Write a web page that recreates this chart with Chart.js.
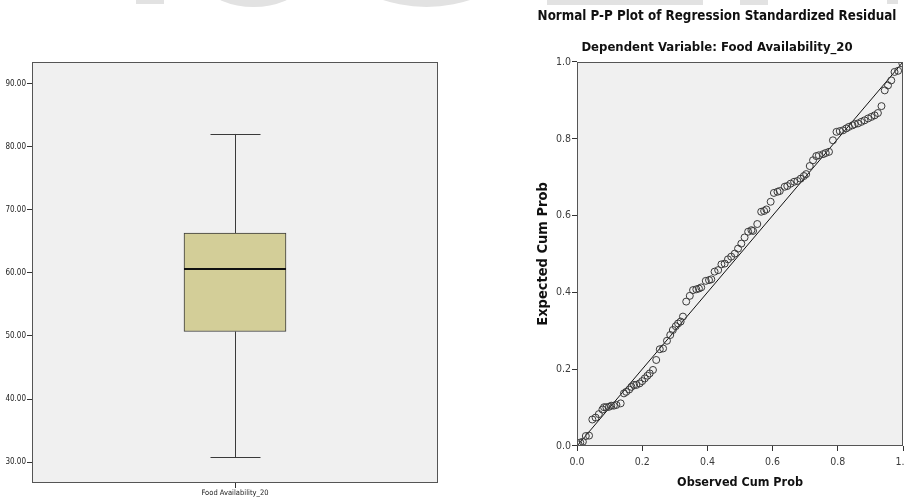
<!DOCTYPE html>
<html>
<head>
<meta charset="utf-8">
<script src="https://cdn.jsdelivr.net/npm/chart.js@4.4.1/dist/chart.umd.min.js"></script>
<style>
html, body { margin: 0; padding: 0; width: 904px; height: 502px; overflow: hidden; background: #fff; }
.wm { position: absolute; background: #e2e2e2; }
#boxWrap { position: absolute; left: 0; top: 0; width: 450px; height: 502px; }
#ppWrap { position: absolute; left: 460px; top: 0; width: 480px; height: 502px; }
</style>
</head>
<body>
<!-- faint watermark bits along the top edge -->
<div class="wm" style="left:136px;top:0;width:28px;height:4px"></div>
<div class="wm" style="left:170px;top:-160px;width:167px;height:167px;border-radius:50%"></div>
<div class="wm" style="left:288px;top:-270px;width:277px;height:277px;border-radius:50%"></div>
<div class="wm" style="left:547px;top:0;width:156px;height:5px"></div>
<div class="wm" style="left:740px;top:0;width:28px;height:5px"></div>
<div class="wm" style="left:887px;top:0;width:11px;height:4px"></div>

<div id="boxWrap"><canvas id="boxchart" width="450" height="502"></canvas></div>
<div id="ppWrap"><canvas id="ppchart" width="480" height="502"></canvas></div>

<script>
// box plot values
var categories = ['Food Availability_20'];
var whiskerMin = [30.8];
var boxQ1 = [50.7];
var boxMedian = [60.6];
var boxQ3 = [66.3];
var whiskerMax = [82.0];
var boxTicks = [30, 40, 50, 60, 70, 80, 90];

// P-P plot values
var observedCumProb = [
  0.005, 0.010, 0.018, 0.027, 0.037, 0.047, 0.057, 0.067, 0.078, 0.083,
  0.090, 0.098, 0.105, 0.113, 0.121, 0.134, 0.144, 0.151, 0.160, 0.167,
  0.175, 0.182, 0.192, 0.200, 0.208, 0.216, 0.223, 0.233, 0.243, 0.254,
  0.264, 0.276, 0.286, 0.294, 0.303, 0.310, 0.318, 0.325, 0.335, 0.346,
  0.356, 0.366, 0.374, 0.381, 0.395, 0.405, 0.412, 0.422, 0.433, 0.443,
  0.453, 0.463, 0.473, 0.484, 0.494, 0.504, 0.514, 0.525, 0.535, 0.540,
  0.553, 0.565, 0.574, 0.581, 0.594, 0.604, 0.615, 0.622, 0.637, 0.645,
  0.655, 0.666, 0.676, 0.686, 0.696, 0.703, 0.714, 0.724, 0.734, 0.742,
  0.755, 0.763, 0.773, 0.785, 0.796, 0.806, 0.816, 0.826, 0.834, 0.845,
  0.852, 0.862, 0.872, 0.882, 0.893, 0.903, 0.913, 0.923, 0.934, 0.944,
  0.954, 0.964, 0.974, 0.985, 0.998
];
var expectedCumProb = [
  0.004, 0.009, 0.011, 0.026, 0.027, 0.069, 0.074, 0.083, 0.095, 0.101,
  0.101, 0.102, 0.105, 0.105, 0.107, 0.111, 0.137, 0.141, 0.147, 0.154,
  0.159, 0.159, 0.163, 0.169, 0.176, 0.183, 0.189, 0.198, 0.224, 0.252,
  0.254, 0.274, 0.289, 0.302, 0.312, 0.319, 0.324, 0.337, 0.376, 0.391,
  0.406, 0.408, 0.410, 0.413, 0.430, 0.432, 0.434, 0.454, 0.458, 0.473,
  0.475, 0.486, 0.493, 0.501, 0.514, 0.527, 0.543, 0.558, 0.562, 0.560,
  0.578, 0.610, 0.612, 0.616, 0.636, 0.659, 0.662, 0.664, 0.675, 0.677,
  0.683, 0.688, 0.690, 0.696, 0.703, 0.708, 0.729, 0.744, 0.755, 0.757,
  0.760, 0.763, 0.766, 0.796, 0.818, 0.820, 0.822, 0.827, 0.831, 0.835,
  0.838, 0.840, 0.844, 0.848, 0.853, 0.857, 0.861, 0.867, 0.885, 0.926,
  0.939, 0.952, 0.974, 0.977, 0.996
];
var refLineX = [0, 1];
var refLineY = [0, 1];
var ppTicks = [0, 0.2, 0.4, 0.6, 0.8, 1.0];

var narrow = '"DejaVu Sans Condensed", "DejaVu Sans", sans-serif';

// grey plot background + frame around the chart area
var plotFrame = {
  id: 'plotFrame',
  beforeDraw: function (chart) {
    var a = chart.chartArea, ctx = chart.ctx;
    ctx.save();
    ctx.fillStyle = '#f0f0f0';
    ctx.fillRect(a.left, a.top, a.right - a.left, a.bottom - a.top);
    ctx.restore();
  },
  afterDraw: function (chart) {
    var a = chart.chartArea, ctx = chart.ctx;
    ctx.save();
    ctx.strokeStyle = '#555';
    ctx.lineWidth = 1;
    ctx.strokeRect(Math.round(a.left) + 0.5, Math.round(a.top) + 0.5,
      Math.round(a.right - a.left) - 1, Math.round(a.bottom - a.top) - 1);
    ctx.restore();
  }
};

// whiskers and median line for the box
var boxParts = {
  id: 'boxParts',
  beforeDatasetsDraw: function (chart) {
    var ctx = chart.ctx, x = chart.scales.x, y = chart.scales.y;
    ctx.save();
    ctx.strokeStyle = '#3a3a3a';
    ctx.lineWidth = 1;
    categories.forEach(function (c, i) {
      var cx = Math.round(x.getPixelForValue(i)) + 0.5;
      var capW = 25;
      ctx.beginPath();
      ctx.moveTo(cx, y.getPixelForValue(whiskerMax[i]));
      ctx.lineTo(cx, y.getPixelForValue(boxQ3[i]));
      ctx.moveTo(cx, y.getPixelForValue(boxQ1[i]));
      ctx.lineTo(cx, y.getPixelForValue(whiskerMin[i]));
      var yMax = Math.round(y.getPixelForValue(whiskerMax[i])) + 0.5;
      var yMin = Math.round(y.getPixelForValue(whiskerMin[i])) + 0.5;
      ctx.moveTo(cx - capW, yMax); ctx.lineTo(cx + capW, yMax);
      ctx.moveTo(cx - capW, yMin); ctx.lineTo(cx + capW, yMin);
      ctx.stroke();
    });
    ctx.restore();
  },
  afterDatasetsDraw: function (chart) {
    var ctx = chart.ctx, y = chart.scales.y;
    var bars = chart.getDatasetMeta(0).data;
    ctx.save();
    ctx.strokeStyle = '#111';
    ctx.lineWidth = 2;
    categories.forEach(function (c, i) {
      var b = bars[i];
      var my = Math.round(y.getPixelForValue(boxMedian[i]));
      ctx.beginPath();
      ctx.moveTo(b.x - b.width / 2, my);
      ctx.lineTo(b.x + b.width / 2, my);
      ctx.stroke();
    });
    ctx.restore();
  }
};

new Chart(document.getElementById('boxchart').getContext('2d'), {
  type: 'bar',
  data: {
    labels: categories,
    datasets: [{
      data: categories.map(function (c, i) { return [boxQ1[i], boxQ3[i]]; }),
      backgroundColor: '#d3ce98',
      borderColor: '#3a3a3a',
      borderWidth: 1,
      borderSkipped: false,
      barThickness: 102
    }]
  },
  options: {
    responsive: false,
    animation: false,
    layout: { padding: { top: 62, right: 12, left: 0, bottom: 0 } },
    plugins: { legend: { display: false }, tooltip: { enabled: false } },
    scales: {
      x: {
        afterFit: function (s) { s.height = 19; },
        border: { display: false },
        grid: { offset: false, drawOnChartArea: false, tickLength: 5, color: '#333' },
        ticks: { color: '#222', padding: 1, font: { family: narrow, size: 7.5 } }
      },
      y: {
        min: 26.7,
        max: 93.4,
        afterFit: function (s) { s.width = 32; },
        afterBuildTicks: function (s) { s.ticks = boxTicks.map(function (v) { return { value: v }; }); },
        border: { display: false },
        grid: { drawOnChartArea: false, tickLength: 5, color: '#333' },
        ticks: {
          color: '#222', padding: 1, font: { family: narrow, size: 8 },
          callback: function (v) { return Number(v).toFixed(2); }
        }
      }
    }
  },
  plugins: [plotFrame, boxParts]
});

new Chart(document.getElementById('ppchart').getContext('2d'), {
  type: 'scatter',
  data: {
    datasets: [{
      data: observedCumProb.map(function (v, i) { return { x: v, y: expectedCumProb[i] }; }),
      pointStyle: 'circle',
      pointRadius: 3.5,
      pointBorderWidth: 1,
      pointBorderColor: '#3a3a3a',
      pointBackgroundColor: 'rgba(0,0,0,0)'
    }, {
      type: 'line',
      data: refLineX.map(function (v, i) { return { x: v, y: refLineY[i] }; }),
      borderColor: '#111',
      borderWidth: 1,
      pointRadius: 0,
      fill: false
    }]
  },
  options: {
    responsive: false,
    animation: false,
    layout: { padding: { top: 0, right: 37, left: 71, bottom: 0 } },
    plugins: {
      legend: { display: false },
      tooltip: { enabled: false },
      title: {
        display: true,
        text: 'Normal P-P Plot of Regression Standardized Residual',
        color: '#111',
        font: { family: narrow, size: 13.3, weight: 'bold', lineHeight: 1.2 },
        padding: { top: 9, bottom: 0 }
      },
      subtitle: {
        display: true,
        text: 'Dependent Variable: Food Availability_20',
        color: '#111',
        font: { family: narrow, size: 13, weight: 'bold', lineHeight: 1.2 },
        padding: { top: 15.2, bottom: 6.2 }
      }
    },
    scales: {
      x: {
        type: 'linear',
        min: 0,
        max: 1,
        afterFit: function (s) { s.height = 56; },
        afterBuildTicks: function (s) { s.ticks = ppTicks.map(function (v) { return { value: v }; }); },
        border: { display: false },
        grid: { drawOnChartArea: false, tickLength: 5, color: '#333' },
        ticks: {
          color: '#3c3c3c', padding: 4.5, font: { family: narrow, size: 10.5 },
          callback: function (v) { return Number(v).toFixed(1); }
        },
        title: {
          display: true,
          text: 'Observed Cum Prob',
          color: '#111',
          font: { family: narrow, size: 12.5, weight: 'bold', lineHeight: 1.2 },
          padding: { top: 0, bottom: 11.5 }
        }
      },
      y: {
        type: 'linear',
        min: 0,
        max: 1,
        afterFit: function (s) { s.width = 46; },
        afterBuildTicks: function (s) { s.ticks = ppTicks.map(function (v) { return { value: v }; }); },
        border: { display: false },
        grid: { drawOnChartArea: false, tickLength: 5, color: '#333' },
        ticks: {
          color: '#3c3c3c', padding: 1, font: { family: narrow, size: 10.5 },
          callback: function (v) { return Number(v).toFixed(1); }
        },
        title: {
          display: true,
          text: 'Expected Cum Prob',
          color: '#111',
          font: { family: narrow, size: 14.5, weight: 'bold', lineHeight: 1.2 },
          padding: { top: 3.3, bottom: 0 }
        }
      }
    }
  },
  plugins: [plotFrame]
});
</script>
</body>
</html>
